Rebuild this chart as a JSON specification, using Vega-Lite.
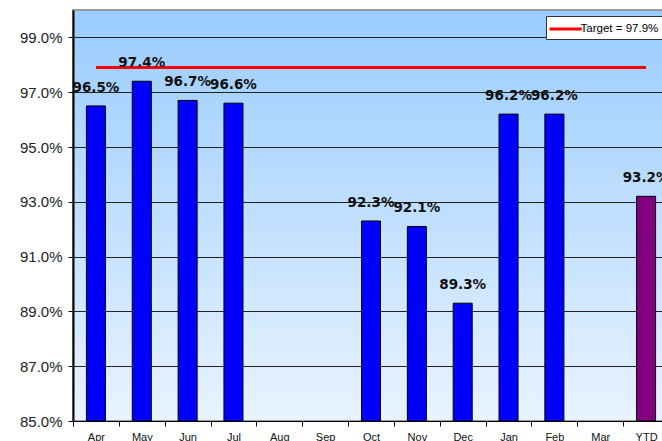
{
  "$schema": "https://vega.github.io/schema/vega-lite/v6.json",
  "autosize": {"type": "none"},
  "padding": {"left": 73, "top": 10, "right": -7, "bottom": 20},
  "width": 596,
  "height": 411,
  "background": "white",
  "config": {
    "view": {
      "stroke": "#9a9a9a",
      "strokeWidth": 2,
      "fill": {
        "gradient": "linear",
        "x1": 0, "y1": 0, "x2": 0, "y2": 1,
        "stops": [
          {"offset": 0, "color": "#99CCFF"},
          {"offset": 1, "color": "#E8F3FF"}
        ]
      }
    },
    "axis": {
      "labelFont": "Liberation Sans",
      "domainColor": "#000000",
      "tickColor": "#000000",
      "titleFont": "Liberation Sans"
    }
  },
  "data": {
    "values": [
      {"month": "Apr", "value": 0.965, "target": 0.979},
      {"month": "May", "value": 0.974, "target": 0.979},
      {"month": "Jun", "value": 0.967, "target": 0.979},
      {"month": "Jul", "value": 0.966, "target": 0.979},
      {"month": "Aug", "value": null, "target": 0.979},
      {"month": "Sep", "value": null, "target": 0.979},
      {"month": "Oct", "value": 0.923, "target": 0.979},
      {"month": "Nov", "value": 0.921, "target": 0.979},
      {"month": "Dec", "value": 0.893, "target": 0.979},
      {"month": "Jan", "value": 0.962, "target": 0.979},
      {"month": "Feb", "value": 0.962, "target": 0.979},
      {"month": "Mar", "value": null, "target": 0.979},
      {"month": "YTD", "value": 0.932, "target": 0.979}
    ]
  },
  "encoding": {
    "x": {
      "field": "month",
      "type": "nominal",
      "sort": null,
      "scale": {
        "domain": ["Apr", "May", "Jun", "Jul", "Aug", "Sep", "Oct", "Nov", "Dec", "Jan", "Feb", "Mar", "YTD"],
        "paddingInner": 0,
        "paddingOuter": 0
      },
      "axis": {
        "title": null,
        "labelAngle": 0,
        "labelFontSize": 11,
        "labelColor": "#111111",
        "tickBand": "extent",
        "tickSize": 5,
        "labelPadding": 5,
        "domainWidth": 1,
        "grid": false
      }
    }
  },
  "layer": [
    {
      "mark": {"type": "bar", "width": {"band": 0.415}, "stroke": "#000000", "strokeWidth": 1},
      "encoding": {
        "y": {
          "field": "value",
          "type": "quantitative",
          "scale": {"domain": [0.85, 1.0], "nice": false, "zero": false},
          "axis": {
            "title": null,
            "format": ".1%",
            "values": [0.85, 0.87, 0.89, 0.91, 0.93, 0.95, 0.97, 0.99],
            "labelFontSize": 15,
            "labelColor": "#222222",
            "labelPadding": 6,
            "tickSize": 5,
            "domainWidth": 2,
            "grid": true,
            "gridColor": "#222222",
            "gridWidth": 1,
            "gridOpacity": 1
          }
        },
        "y2": {"datum": 0.85},
        "fill": {
          "condition": {"test": "datum.month === 'YTD'", "value": "#800080"},
          "value": "#0000FF"
        }
      }
    },
    {
      "mark": {"type": "line", "strokeWidth": 3},
      "encoding": {
        "y": {"field": "target", "type": "quantitative"},
        "color": {
          "datum": "Target = 97.9%",
          "scale": {"range": ["#FF0000"]},
          "legend": {
            "title": null,
            "orient": "none",
            "legendX": 473,
            "legendY": 6,
            "fillColor": "#FFFFFF",
            "strokeColor": "#333333",
            "padding": 4,
            "symbolType": "M-2.15,0H2.15",
            "symbolSize": 225,
            "symbolStrokeWidth": 3,
            "symbolOffset": 6.6,
            "labelOffset": 6,
            "labelFont": "Liberation Sans",
            "labelFontSize": 11.5,
            "labelColor": "#000000"
          }
        }
      }
    },
    {
      "mark": {
        "type": "text",
        "font": "DejaVu Sans",
        "fontWeight": "bold",
        "fontSize": 13.5,
        "baseline": "alphabetic",
        "dy": -14,
        "color": "#111111"
      },
      "encoding": {
        "y": {"field": "value", "type": "quantitative"},
        "text": {"field": "value", "type": "quantitative", "format": ".1%"}
      }
    }
  ]
}
